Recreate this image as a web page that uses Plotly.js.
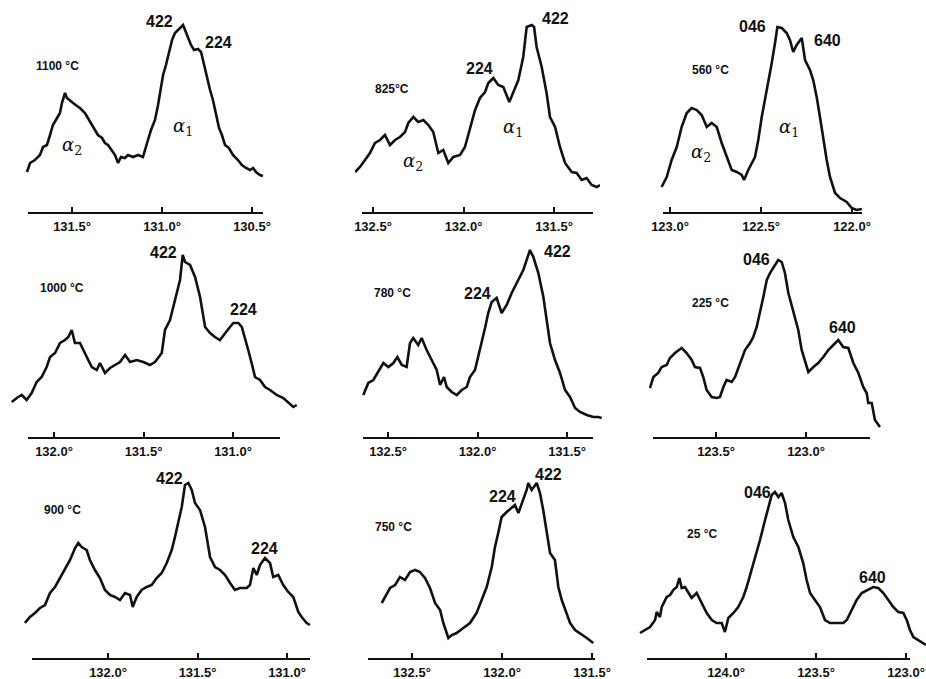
<!DOCTYPE html>
<html><head><meta charset="utf-8">
<script src="https://cdn.plot.ly/plotly-3.0.1.min.js"></script>
<style>html,body{margin:0;padding:0;background:#fff;} #chart{width:926px;height:679px;}</style>
</head><body><div id="chart"></div>
<script>
// ---- Data: diffraction angle (deg) and intensity (arbitrary units) ----
const p1Deg = [131.75,131.733,131.706,131.678,131.661,131.639,131.622,131.606,131.583,131.567,131.556,131.544,131.539,131.528,131.511,131.494,131.472,131.456,131.428,131.411,131.389,131.372,131.356,131.333,131.317,131.3,131.278,131.261,131.244,131.228,131.206,131.189,131.161,131.133,131.106,131.089,131.078,131.061,131.039,131.022,131.006,130.994,130.978,130.961,130.944,130.928,130.911,130.894,130.883,130.872,130.856,130.839,130.822,130.8,130.783,130.767,130.75,130.733,130.717,130.7,130.683,130.667,130.65,130.628,130.606,130.578,130.556,130.533,130.511,130.494,130.478,130.456,130.439];
const p1Int = [40,49,52,57,65,67,77,87,94,99,109,117,119,114,111,109,106,104,99,94,87,82,77,74,69,67,62,57,49,55,54,57,55,57,55,64,72,82,92,107,127,137,147,160,172,179,182,185,187,182,175,167,162,163,160,147,135,122,112,97,84,77,67,64,57,52,47,44,42,44,40,37,36];

const p2Deg = [132.599,132.572,132.544,132.517,132.489,132.461,132.434,132.406,132.378,132.351,132.323,132.305,132.277,132.250,132.222,132.194,132.167,132.139,132.112,132.084,132.056,132.019,131.992,131.964,131.936,131.909,131.881,131.863,131.835,131.808,131.780,131.747,131.725,131.697,131.670,131.651,131.623,131.610,131.596,131.568,131.541,131.522,131.494,131.467,131.439,131.402,131.375,131.347,131.320,131.292,131.264,131.246];
const p2Int = [40,45,52,59,69,72,77,67,72,75,80,89,95,90,92,87,80,59,62,49,55,57,65,85,102,114,120,129,134,127,125,110,119,132,155,185,187,185,165,145,119,95,85,65,49,40,39,32,34,27,25,27];

const p3Deg = [123.046,123.018,122.991,122.963,122.936,122.908,122.881,122.853,122.826,122.798,122.771,122.743,122.716,122.688,122.661,122.633,122.606,122.593,122.570,122.533,122.515,122.496,122.478,122.460,122.441,122.423,122.410,122.386,122.359,122.341,122.323,122.304,122.276,122.258,122.231,122.213,122.194,122.176,122.158,122.139,122.121,122.093,122.066,122.029,122.002,121.974,121.946];
const p3Int = [25,35,52,65,85,99,104,102,97,85,89,85,69,55,42,40,37,32,42,55,72,95,112,129,149,169,185,184,179,172,160,167,174,152,142,132,115,95,72,52,35,19,14,10,4,2,3];

const p4Deg = [132.236,132.208,132.180,132.153,132.125,132.097,132.069,132.041,132.022,131.994,131.966,131.939,131.920,131.901,131.883,131.855,131.836,131.817,131.789,131.761,131.743,131.715,131.687,131.659,131.631,131.603,131.575,131.538,131.501,131.464,131.436,131.398,131.380,131.352,131.334,131.315,131.296,131.281,131.268,131.240,131.212,131.184,131.156,131.128,131.101,131.073,131.045,131.017,130.998,130.970,130.951,130.933,130.915,130.896,130.877,130.849,130.821,130.793,130.756,130.719,130.691,130.663,130.644];
const p4Int = [35,39,42,37,44,55,60,70,80,84,94,97,100,107,94,94,87,80,70,67,74,64,69,72,75,82,75,77,75,72,75,84,107,117,130,145,157,182,175,172,160,140,110,104,100,97,104,110,114,114,110,97,87,74,60,57,50,47,42,39,34,30,32];

const p5Deg = [132.638,132.610,132.582,132.554,132.526,132.498,132.470,132.448,132.423,132.396,132.377,132.359,132.331,132.312,132.284,132.256,132.228,132.209,132.187,132.172,132.144,132.116,132.088,132.060,132.042,132.014,131.986,131.958,131.940,131.921,131.893,131.865,131.837,131.809,131.781,131.744,131.716,131.707,131.688,131.660,131.632,131.613,131.595,131.567,131.539,131.511,131.483,131.455,131.427,131.390,131.353,131.325,131.306];
const p5Int = [42,54,57,65,74,70,74,80,72,70,94,99,92,99,87,77,67,52,60,50,45,42,47,50,60,67,87,109,124,135,139,124,132,144,154,167,182,187,180,164,140,114,94,77,64,47,40,29,25,22,20,20,19];

const p6Deg = [123.867,123.848,123.821,123.802,123.774,123.756,123.728,123.691,123.663,123.635,123.617,123.589,123.571,123.552,123.524,123.496,123.478,123.459,123.441,123.413,123.394,123.367,123.339,123.311,123.293,123.274,123.256,123.237,123.218,123.200,123.172,123.154,123.135,123.117,123.098,123.071,123.043,123.024,123.006,122.987,122.959,122.932,122.904,122.876,122.848,122.821,122.793,122.765,122.737,122.709,122.682,122.663,122.654,122.635,122.617,122.589];
const p6Int = [49,60,64,70,72,79,84,89,84,77,70,69,60,47,40,39,40,50,57,55,60,74,87,94,100,110,124,140,157,164,172,177,175,164,144,127,107,87,77,65,70,74,80,87,92,97,90,89,74,64,50,44,34,34,17,10];

const p7Deg = [132.464,132.436,132.408,132.380,132.352,132.324,132.296,132.268,132.240,132.212,132.184,132.166,132.147,132.119,132.101,132.073,132.045,132.017,131.989,131.961,131.933,131.905,131.877,131.862,131.840,131.812,131.784,131.756,131.728,131.700,131.672,131.644,131.626,131.607,131.588,131.570,131.551,131.532,131.514,131.486,131.458,131.430,131.402,131.374,131.346,131.318,131.291,131.263,131.225,131.207,131.188,131.169,131.151,131.123,131.095,131.077,131.049,131.021,130.993,130.965,130.937,130.918,130.890,130.872];
const p7Int = [35,41,45,50,53,65,71,80,88,98,110,115,111,108,98,88,80,68,63,61,58,65,63,51,61,68,71,73,80,85,95,108,121,135,151,173,175,168,155,148,131,101,91,88,83,75,68,70,70,73,90,83,93,100,95,81,83,73,66,61,46,41,35,33];

const p8Deg = [132.668,132.650,132.622,132.594,132.567,132.539,132.511,132.483,132.456,132.428,132.400,132.372,132.344,132.326,132.298,132.279,132.252,132.215,132.178,132.141,132.113,132.085,132.057,132.039,132.021,132.002,131.974,131.946,131.928,131.909,131.882,131.863,131.854,131.835,131.807,131.789,131.771,131.752,131.733,131.706,131.687,131.668,131.641,131.622,131.594,131.567,131.529,131.493];
const p8Int = [55,61,70,73,81,78,86,88,86,80,70,55,48,35,20,23,25,30,35,45,58,71,91,111,125,141,146,150,153,145,158,168,175,168,175,165,148,128,105,98,71,58,45,35,28,25,20,15];

const p9Deg = [124.478,124.450,124.422,124.394,124.385,124.367,124.357,124.329,124.311,124.293,124.274,124.259,124.246,124.228,124.209,124.191,124.163,124.135,124.107,124.079,124.052,124.024,124.006,123.987,123.959,123.932,123.904,123.885,123.857,123.829,123.811,123.783,123.765,123.746,123.728,123.709,123.691,123.672,123.654,123.626,123.598,123.571,123.552,123.533,123.506,123.478,123.450,123.422,123.385,123.348,123.329,123.302,123.274,123.246,123.218,123.182,123.154,123.126,123.098,123.071,123.043,123.015,122.996,122.978,122.959,122.932,122.904,122.889];
const p9Int = [25,28,31,38,46,41,51,61,63,68,71,80,70,71,65,60,65,55,45,38,35,35,26,40,45,51,61,71,88,105,118,138,151,163,166,161,165,155,138,121,111,95,78,65,58,51,38,35,35,35,38,48,58,65,68,71,70,65,58,51,46,45,38,28,21,18,15,13];

// tick labels (deg)
const p1Ticks = [131.5, 131.0, 130.5];
const p2Ticks = [132.5, 132.0, 131.5];
const p3Ticks = [123.0, 122.5, 122.0];
const p4Ticks = [132.0, 131.5, 131.0];
const p5Ticks = [132.5, 132.0, 131.5];
const p6Ticks = [123.5, 123.0];
const p7Ticks = [132.0, 131.5, 131.0];
const p8Ticks = [132.5, 132.0, 131.5];
const p9Ticks = [124.0, 123.5, 123.0];

const temperatures = ['1100 °C', '825°C', '560 °C', '1000 °C', '780 °C', '225 °C', '900 °C', '750 °C', '25 °C'];
const peakA = ['422', '224', '046', '422', '224', '046', '422', '224', '046'];
const peakB = ['224', '422', '640', '224', '422', '640', '224', '422', '640'];

// ---- Layout configuration (pixels) ----
const W = 926, H = 679;
const rows = [{axisY: 212, top: 0}, {axisY: 437, top: 232}, {axisY: 658, top: 455}];
const panels = [
  {deg: p1Deg, val: p1Int, ticks: p1Ticks, row: 0, scale: 180, refDeg: 131.5, refPx: 72,  left: 25,  right: 265, axL: 28,  axR: 263},
  {deg: p2Deg, val: p2Int, ticks: p2Ticks, row: 0, scale: 181, refDeg: 132.5, refPx: 373, left: 355, right: 600, axL: 362, axR: 593},
  {deg: p3Deg, val: p3Int, ticks: p3Ticks, row: 0, scale: 182, refDeg: 123.0, refPx: 670, left: 660, right: 863, axL: 663, axR: 862},
  {deg: p4Deg, val: p4Int, ticks: p4Ticks, row: 1, scale: 179, refDeg: 132.0, refPx: 54,  left: 10,  right: 298, axL: 28,  axR: 280},
  {deg: p5Deg, val: p5Int, ticks: p5Ticks, row: 1, scale: 179, refDeg: 132.5, refPx: 388, left: 362, right: 603, axL: 363, axR: 593},
  {deg: p6Deg, val: p6Int, ticks: p6Ticks, row: 1, scale: 180, refDeg: 123.5, refPx: 716, left: 649, right: 881, axL: 653, axR: 870},
  {deg: p7Deg, val: p7Int, ticks: p7Ticks, row: 2, scale: 179, refDeg: 132.0, refPx: 108, left: 24,  right: 311, axL: 32,  axR: 310},
  {deg: p8Deg, val: p8Int, ticks: p8Ticks, row: 2, scale: 180, refDeg: 132.5, refPx: 412, left: 368, right: 595, axL: 368, axR: 595},
  {deg: p9Deg, val: p9Int, ticks: p9Ticks, row: 2, scale: 180, refDeg: 124.0, refPx: 726, left: 639, right: 926, axL: 647, axR: 910}
];

// label placement (pixel centres)
const labelPos = [
  {t: [58, 66],  a: [159, 21],  b: [218, 42],  a2: [72, 146],  a1: [183, 127]},
  {t: [392, 89], a: [479, 69],  b: [555, 18],  a2: [413, 162], a1: [513, 128]},
  {t: [710, 70], a: [752, 27],  b: [827, 40],  a2: [701, 153], a1: [789, 128]},
  {t: [62, 288], a: [163, 252], b: [243, 310]},
  {t: [392, 293],a: [477, 293], b: [557, 251]},
  {t: [710, 303],a: [756, 259], b: [842, 327]},
  {t: [62, 510], a: [169, 478], b: [264, 548]},
  {t: [393, 527],a: [502, 497], b: [548, 475]},
  {t: [702, 534],a: [757, 492], b: [872, 577]}
];

const FONT = 'Liberation Sans, Arial, Helvetica, sans-serif';
const INK = '#111';
const data = [];
const layout = {
  width: W, height: H, margin: {l: 0, r: 0, t: 0, b: 0},
  paper_bgcolor: '#fff', plot_bgcolor: 'rgba(0,0,0,0)', showlegend: false,
  annotations: []
};

function ann(text, pos, font) {
  layout.annotations.push({text: text, x: pos[0] / W, y: 1 - pos[1] / H, xref: 'paper', yref: 'paper',
    showarrow: false, xanchor: 'center', yanchor: 'middle', font: font});
}

panels.forEach((p, i) => {
  const n = i + 1, m = i + 10;
  const r = rows[p.row];
  const toDeg = px => p.refDeg - (px - p.refPx) / p.scale;
  data.push({x: p.deg, y: p.val, xaxis: 'x' + n, yaxis: 'y' + n, type: 'scatter', mode: 'lines',
    line: {color: INK, width: 2.6}, hoverinfo: 'skip'});
  data.push({x: [], y: [], xaxis: 'x' + m, yaxis: 'y' + n, type: 'scatter', mode: 'lines', hoverinfo: 'skip'});
  layout['xaxis' + n] = {domain: [p.left / W, p.right / W], range: [toDeg(p.left), toDeg(p.right)],
    visible: false, anchor: 'y' + n, fixedrange: true};
  layout['xaxis' + m] = {domain: [p.axL / W, p.axR / W], range: [toDeg(p.axL), toDeg(p.axR)], anchor: 'y' + n,
    showline: true, linecolor: INK, linewidth: 1.8, ticks: 'inside', ticklen: 5, tickwidth: 2, tickcolor: INK,
    tickmode: 'array', tickvals: p.ticks, ticktext: p.ticks.map(v => v.toFixed(1) + '°'),
    tickfont: {family: FONT, size: 13, color: INK, weight: 'bold'}, ticklabelstandoff: 2,
    showgrid: false, zeroline: false, fixedrange: true};
  layout['yaxis' + n] = {domain: [(H - r.axisY) / H, (H - r.top) / H], range: [0, r.axisY - r.top],
    visible: false, anchor: 'x' + n, fixedrange: true};

  const lp = labelPos[i];
  ann(temperatures[i], lp.t, {family: FONT, size: 12, color: INK, weight: 'bold'});
  ann(peakA[i], lp.a, {family: FONT, size: 16, color: INK, weight: 'bold'});
  ann(peakB[i], lp.b, {family: FONT, size: 16, color: INK, weight: 'bold'});
  if (lp.a2) ann('<i>α</i><sub>2</sub>', lp.a2, {family: 'DejaVu Serif, serif', size: 18, color: INK});
  if (lp.a1) ann('<i>α</i><sub>1</sub>', lp.a1, {family: 'DejaVu Serif, serif', size: 18, color: INK});
});

Plotly.newPlot('chart', data, layout, {staticPlot: true, displayModeBar: false});
</script>
</body></html>
